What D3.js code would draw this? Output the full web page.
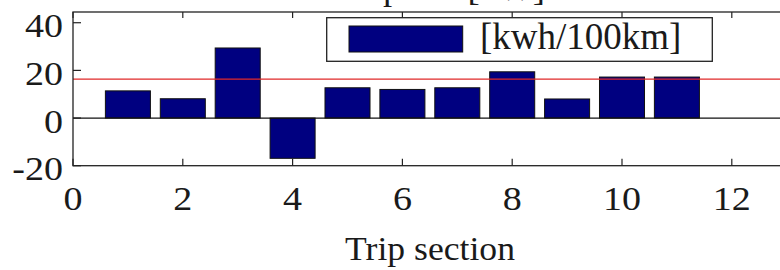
<!DOCTYPE html>
<html>
<head>
<meta charset="utf-8">
<script src="https://cdn.jsdelivr.net/npm/d3@7"></script>
<style>
  body { margin: 0; background: #fff; }
  text { font-family: "Liberation Serif", "Times New Roman", serif; fill: #1a1a1a; }
</style>
</head>
<body>
<script>
// trip sections and energy per section
const sections = [1, 2, 3, 4, 5, 6, 7, 8, 9, 10, 11];
const consumption = [11.4, 8.1, 29.4, -16.9, 12.7, 12.0, 12.7, 19.4, 8.0, 17.2, 17.2];
const average = 16.35;
const xTicks = [0, 2, 4, 6, 8, 10, 12];
const yTicks = [-20, 0, 20, 40];
const legendLabel = "[kwh/100km]";
const titleText = "Power consumption [kW]";

var width = 780, height = 270;

var svg = d3.select("body").append("svg")
  .attr("width", width)
  .attr("height", height);

var x = d3.scaleLinear().domain([0, 13]).range([73, 786.7]);
var y = d3.scaleLinear().domain([-20, 44.5]).range([165.7, 12]);

// title, only the bottom of it shows
svg.append("text")
  .attr("transform", "translate(545,0) scale(1.08,1)")
  .attr("text-anchor", "end")
  .attr("font-size", 34)
  .text(titleText);

// bars
svg.append("g")
  .selectAll("rect")
  .data(sections)
  .join("rect")
    .attr("x", (d, i) => x(d - 0.41))
    .attr("width", x(0.82) - x(0))
    .attr("y", (d, i) => y(Math.max(0, consumption[i])))
    .attr("height", (d, i) => Math.abs(y(consumption[i]) - y(0)))
    .attr("fill", "#000080")
    .attr("stroke", "#111")
    .attr("stroke-width", 1);

// zero line
svg.append("line")
  .attr("x1", x(0)).attr("x2", x(13))
  .attr("y1", y(0)).attr("y2", y(0))
  .attr("stroke", "#111").attr("stroke-width", 1.2);

// average line
svg.append("line")
  .attr("x1", x(0)).attr("x2", x(13))
  .attr("y1", y(average)).attr("y2", y(average))
  .attr("stroke", "#e02828").attr("stroke-width", 1.3);

// frame
svg.append("rect")
  .attr("x", x(0)).attr("y", y(44.5))
  .attr("width", x(13) - x(0)).attr("height", y(-20) - y(44.5))
  .attr("fill", "none").attr("stroke", "#222").attr("stroke-width", 1.3);

// ticks, pointing inward
svg.append("g").selectAll("line")
  .data(xTicks)
  .join("line")
    .attr("x1", d => x(d)).attr("x2", d => x(d))
    .attr("y1", y(-20)).attr("y2", y(-20) - 7)
    .attr("stroke", "#222").attr("stroke-width", 1.2);
svg.append("g").selectAll("line")
  .data(xTicks)
  .join("line")
    .attr("x1", d => x(d)).attr("x2", d => x(d))
    .attr("y1", y(44.5)).attr("y2", y(44.5) + 6)
    .attr("stroke", "#222").attr("stroke-width", 1.2);
svg.append("g").selectAll("line")
  .data(yTicks)
  .join("line")
    .attr("x1", x(0)).attr("x2", x(0) + 8)
    .attr("y1", d => y(d)).attr("y2", d => y(d))
    .attr("stroke", "#222").attr("stroke-width", 1.2);

// tick labels
svg.append("g").selectAll("text")
  .data(xTicks)
  .join("text")
    .attr("transform", d => `translate(${x(d)},210) scale(1.12,1)`)
    .attr("text-anchor", "middle")
    .attr("font-size", 34)
    .text(d => d);
svg.append("g").selectAll("text")
  .data(yTicks)
  .join("text")
    .attr("transform", d => `translate(63,${y(d) + 14.5}) scale(1.12,1)`)
    .attr("text-anchor", "end")
    .attr("font-size", 34)
    .text(d => d);

// axis label
svg.append("text")
  .attr("transform", "translate(430,260) scale(1.08,1)")
  .attr("text-anchor", "middle")
  .attr("font-size", 33)
  .text("Trip section");

// legend
var legend = svg.append("g");
legend.append("rect")
  .attr("x", 326.7).attr("y", 17.7)
  .attr("width", 385.6).attr("height", 43.6)
  .attr("fill", "#fff").attr("stroke", "#222").attr("stroke-width", 1.3);
legend.append("rect")
  .attr("x", 349).attr("y", 26)
  .attr("width", 113.7).attr("height", 26)
  .attr("fill", "#000080").attr("stroke", "#111");
legend.append("text")
  .attr("x", 480).attr("y", 49)
  .attr("font-size", 37)
  .text(legendLabel);
</script>
</body>
</html>
